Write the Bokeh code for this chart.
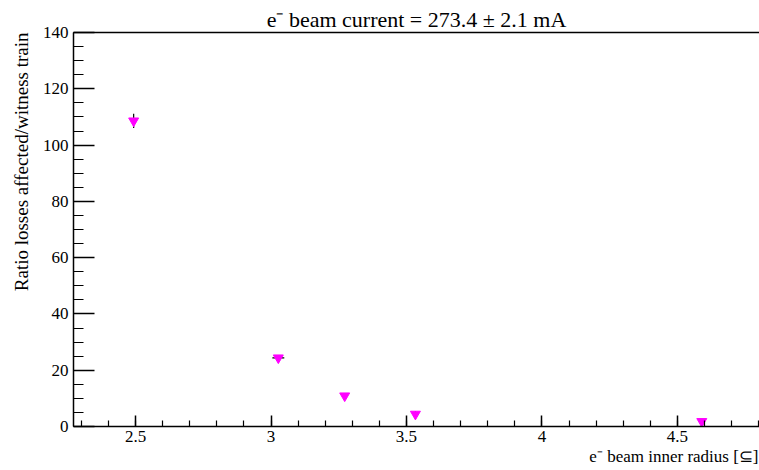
from bokeh.plotting import figure
from bokeh.models import (ColumnDataSource, Range1d, LinearAxis, FixedTicker,
                          Title, SingleIntervalTicker)
from bokeh.embed import file_html
from bokeh.resources import INLINE

# data
radius = [2.493, 3.027, 3.272, 3.533, 4.590]
ratio = [108.6, 24.4, 10.9, 4.4, 1.8]
radius_err = [0.004, 0.022, 0.0, 0.0, 0.0]
ratio_err = [2.5, 0.5, 0.3, 1.0, 0.8]
title_text = "e\u207b beam current = 273.4 \u00b1 2.1 mA"
xlabel_text = "e\u207b beam inner radius [\u2286]"
ylabel_text = "Ratio losses affected/witness train"

FONT = "'Liberation Serif'"

p = figure(width=759, height=470, output_backend="svg", toolbar_location=None,
           x_range=Range1d(2.271, 4.803), y_range=Range1d(0, 140),
           min_border_left=73, min_border_right=0, min_border_top=32,
           min_border_bottom=44, x_axis_type=None, y_axis_type=None)
p.outline_line_color = None
p.xgrid.visible = False
p.ygrid.visible = False
p.background_fill_color = "white"
p.border_fill_color = "white"

xa = LinearAxis(ticker=SingleIntervalTicker(interval=0.5, num_minor_ticks=5))
ya = LinearAxis(ticker=SingleIntervalTicker(interval=20, num_minor_ticks=4))
for ax, mj, mn in ((xa, 11, 6), (ya, 21, 10)):
    ax.major_tick_in = mj
    ax.major_tick_out = 0
    ax.minor_tick_in = mn
    ax.minor_tick_out = 0
    ax.axis_line_color = "black"
    ax.axis_line_width = 1.5
    ax.major_tick_line_color = "black"
    ax.minor_tick_line_color = "black"
    ax.major_tick_line_width = 1.5
    ax.minor_tick_line_width = 1.2
    ax.major_label_text_font = FONT
    ax.major_label_text_font_size = "17px"
    ax.major_label_text_color = "black"
xa.major_label_standoff = 4
ya.major_label_standoff = 5
p.add_layout(xa, "below")
p.add_layout(ya, "left")

top = LinearAxis(ticker=FixedTicker(ticks=[]), axis_line_color="black",
                 axis_line_width=1.5, major_label_text_font_size="0px",
                 major_tick_in=0, major_tick_out=0, minor_tick_in=0, minor_tick_out=0)
p.add_layout(top, "above")

src = ColumnDataSource(dict(
    x=radius, y=ratio,
    xl=[a - b for a, b in zip(radius, radius_err)],
    xu=[a + b for a, b in zip(radius, radius_err)],
    yl=[a - b for a, b in zip(ratio, ratio_err)],
    yu=[a + b for a, b in zip(ratio, ratio_err)],
))
p.segment(x0="x", x1="x", y0="yl", y1="yu", source=src, line_color="black", line_width=1.2)
p.segment(x0="xl", x1="xu", y0="y", y1="y", source=src, line_color="black", line_width=1.2)
p.scatter(x="x", y="y", source=src, marker="inverted_triangle", size=10,
          fill_color="#ff00ff", line_color="#ff00ff")

p.title.text = title_text
p.title.align = "center"
p.title.text_font = FONT
p.title.text_font_size = "22px"
p.title.text_font_style = "normal"
p.title.text_color = "black"
p.title.standoff = 2
p.title.offset = 0

p.add_layout(Title(text=xlabel_text, align="right", text_font=FONT,
                   text_font_size="17px", text_font_style="normal",
                   text_color="black", standoff=0, offset=1), "below")
p.add_layout(Title(text=ylabel_text, align="right", text_font=FONT,
                   text_font_size="19px", text_font_style="normal",
                   text_color="black", standoff=16), "left")

open("out.html", "w").write(file_html(p, INLINE))
